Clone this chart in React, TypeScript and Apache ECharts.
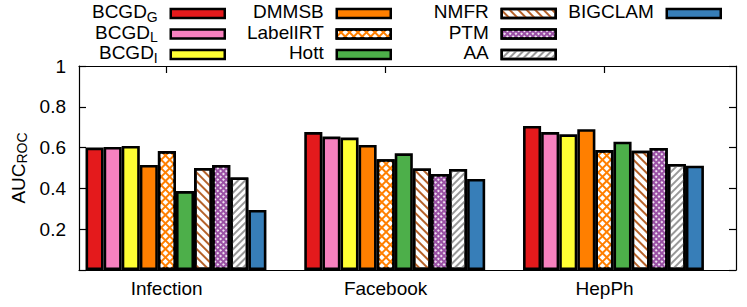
import React, { useEffect, useRef } from 'react';
import * as echarts from 'echarts';

const categories = ['Infection', 'Facebook', 'HepPh'];
const seriesNames = ['BCGD_G', 'BCGD_L', 'BCGD_I', 'DMMSB', 'LabelIRT', 'Hott', 'NMFR', 'PTM', 'AA', 'BIGCLAM'];
const bcgdG = [0.600, 0.676, 0.706];
const bcgdL = [0.603, 0.654, 0.676];
const bcgdI = [0.608, 0.649, 0.665];
const dmmsb = [0.515, 0.613, 0.690];
const labelIRT = [0.583, 0.543, 0.588];
const hott = [0.387, 0.572, 0.629];
const nmfr = [0.500, 0.498, 0.585];
const ptm = [0.515, 0.471, 0.598];
const aa = [0.454, 0.495, 0.520];
const bigclam = [0.294, 0.446, 0.511];
const seriesValues = [bcgdG, bcgdL, bcgdI, dmmsb, labelIRT, hott, nmfr, ptm, aa, bigclam];
const yTickLabels = ['0.2', '0.4', '0.6', '0.8', '1'];
const legendColumns = [
  ['BCGD_G', 'BCGD_L', 'BCGD_I'],
  ['DMMSB', 'LabelIRT', 'Hott'],
  ['NMFR', 'PTM', 'AA'],
  ['BIGCLAM'],
];

const FONT = "'Liberation Sans', Arial, Helvetica, sans-serif";

const seriesStyles: any[] = [
  { color: '#e41a1c' },
  { color: '#f781bf' },
  { color: '#ffff33' },
  { color: '#ff7f00' },
  {
    color: '#ff7f00',
    decal: { symbol: 'rect', color: '#ffffff', dashArrayX: [3.7, 1.4], dashArrayY: [3.7, 1.4], rotation: Math.PI / 4, symbolSize: 1 },
  },
  { color: '#4daf4a' },
  {
    color: '#ffffff',
    decal: { symbol: 'rect', color: '#b5622a', dashArrayX: [5, 0], dashArrayY: [1.4, 3.8], rotation: Math.PI / 4, symbolSize: 1 },
  },
  {
    color: '#984ea3',
    decal: { symbol: 'circle', color: '#ffffff', dashArrayX: [2, 1.3], dashArrayY: [2, 1.3], rotation: Math.PI / 4, symbolSize: 1 },
  },
  {
    color: '#ffffff',
    decal: { symbol: 'rect', color: '#999999', dashArrayX: [5, 0], dashArrayY: [1.3, 2.3], rotation: -Math.PI / 4, symbolSize: 1 },
  },
  { color: '#377eb8' },
];

const legendRights = [521, 355, 190, 25];

function legendFormatter(name: string) {
  const idx = name.indexOf('_');
  if (idx >= 0) {
    return '{m|' + name.slice(0, idx) + '}{s|' + name.slice(idx + 1) + '}{g| }';
  }
  return '{m|' + name + '}{g| }';
}

export default function App() {
  const ref = useRef<HTMLDivElement>(null);
  useEffect(() => {
    if (!ref.current) return;
    const chart = echarts.init(ref.current, undefined, { renderer: 'svg' });
    const axisLine = { show: true, onZero: false, lineStyle: { color: '#000', width: 1.2 } };
    const tickInside = { show: true, inside: true, length: 7, lineStyle: { color: '#000', width: 1.2 } };
    const legendRich = {
      m: { fontFamily: FONT, fontSize: 19, lineHeight: 20, padding: [0, 0, 4, 0], color: '#000' },
      s: { fontFamily: FONT, fontSize: 14, lineHeight: 7, verticalAlign: 'bottom', color: '#000' },
      g: { fontFamily: FONT, fontSize: 19, lineHeight: 20, width: 8, color: '#000' },
    };
    const option: any = {
      animation: false,
      textStyle: { fontFamily: FONT, color: '#000' },
      grid: [
        { left: 79, right: 11, top: 66, bottom: 37 },
        { left: 66.6, width: 656.25, top: 66, bottom: 37 },
      ],
      legend: legendColumns.map((col, i) => ({
        data: col,
        orient: 'vertical',
        align: 'right',
        right: legendRights[i],
        top: 2,
        padding: 0,
        itemWidth: 54,
        itemHeight: 9,
        itemGap: -2.5,
        icon: 'rect',
        selectedMode: false,
        formatter: legendFormatter,
        itemStyle: { borderColor: '#000', borderWidth: 2.5 },
        textStyle: {
          fontFamily: FONT,
          fontSize: 19,
          color: '#000',
          rich: legendRich,
        },
      })),
      xAxis: [
        {
          gridIndex: 0,
          type: 'value',
          min: -0.4,
          max: 2.6,
          position: 'bottom',
          axisLine,
          axisTick: { ...tickInside, customValues: [0, 1, 2] },
          axisLabel: {
            customValues: [0, 1, 2],
            formatter: (v: number) => categories[Math.round(v)] ?? '',
            fontSize: 19,
            fontFamily: FONT,
            color: '#000',
            margin: 9,
          },
          splitLine: { show: false },
        },
        {
          gridIndex: 0,
          type: 'value',
          min: -0.4,
          max: 2.6,
          position: 'top',
          axisLine,
          axisTick: { ...tickInside, customValues: [0, 1, 2] },
          axisLabel: { show: false },
          splitLine: { show: false },
        },
        {
          gridIndex: 1,
          type: 'category',
          data: categories,
          show: false,
        },
      ],
      yAxis: [
        {
          gridIndex: 0,
          type: 'value',
          min: 0,
          max: 1,
          interval: 0.2,
          position: 'left',
          axisLine,
          axisTick: tickInside,
          axisLabel: {
            fontSize: 19,
            fontFamily: FONT,
            color: '#000',
            margin: 13,
            formatter: (v: number) => {
              const i = Math.round(v / 0.2) - 1;
              return i >= 0 ? yTickLabels[i] : '';
            },
          },
          splitLine: { show: false },
          name: '{m|AUC}{s|ROC}',
          nameLocation: 'middle',
          nameRotate: 90,
          nameGap: 50,
          nameTextStyle: {
            fontFamily: FONT,
            color: '#000',
            rich: {
              m: { fontFamily: FONT, fontSize: 19, lineHeight: 20, color: '#000' },
              s: { fontFamily: FONT, fontSize: 14, lineHeight: 4, verticalAlign: 'bottom', color: '#000' },
            },
          },
        },
        {
          gridIndex: 0,
          type: 'value',
          min: 0,
          max: 1,
          interval: 0.2,
          position: 'right',
          axisLine,
          axisTick: tickInside,
          axisLabel: { show: false },
          splitLine: { show: false },
        },
        {
          gridIndex: 1,
          type: 'value',
          min: 0,
          max: 1,
          show: false,
        },
      ],
      series: seriesNames.map((name, i) => ({
        name,
        type: 'bar',
        xAxisIndex: 2,
        yAxisIndex: 2,
        data: seriesValues[i],
        barGap: '0%',
        barCategoryGap: '17.3%',
        itemStyle: {
          color: seriesStyles[i].color,
          borderColor: '#000',
          borderWidth: 2.6,
          decal: seriesStyles[i].decal,
        },
      })),
    };
    chart.setOption(option);
    return () => chart.dispose();
  }, []);
  return (
    <div
      ref={ref}
      style={{ position: 'fixed', left: 0, top: 0, width: 747, height: 307, background: '#fff' }}
    />
  );
}
